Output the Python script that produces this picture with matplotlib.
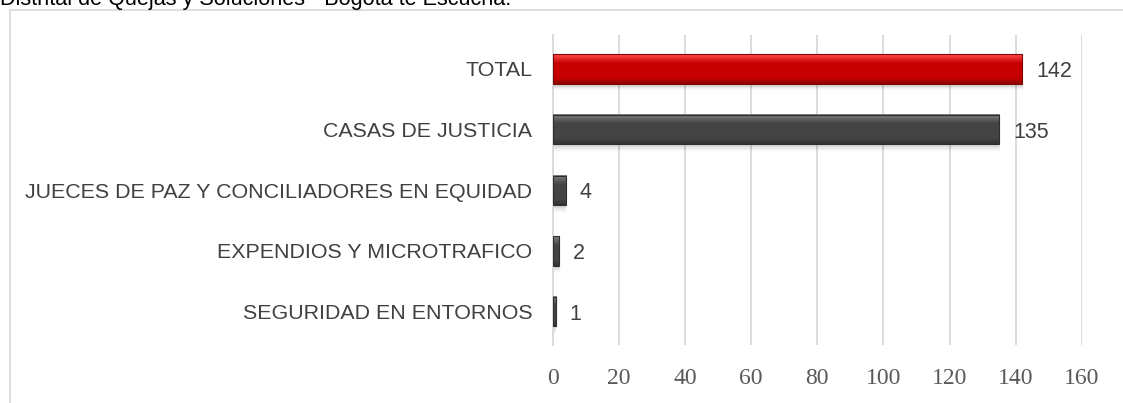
import matplotlib
matplotlib.use("Agg")
import matplotlib.pyplot as plt
import numpy as np
from matplotlib.patches import Rectangle

categories = ["TOTAL", "CASAS DE JUSTICIA", "JUECES DE PAZ Y CONCILIADORES EN EQUIDAD",
              "EXPENDIOS Y MICROTRAFICO", "SEGURIDAD EN ENTORNOS"]
values = [142, 135, 4, 2, 1]
xticks = [0, 20, 40, 60, 80, 100, 120, 140, 160]
title_text = "Distrital de Quejas y Soluciones - Bogotá te Escucha."

W, H = 1123, 403
fig = plt.figure(figsize=(W / 100, H / 100), dpi=100)
fig.patch.set_facecolor("white")

# outer frame
fig.patches.append(Rectangle((10 / W, -0.05), 1.1, 1 - 10 / H + 0.05, transform=fig.transFigure,
                             fill=False, edgecolor="#D9D9D9", linewidth=1.2))
fig.text(0 / W, 1 - 5 / H, title_text, fontsize=15.6, family="Liberation Sans",
         color="#000000", va="baseline", ha="left")

ax_left, ax_right, ax_top, ax_bot = 552.5, 1082, 35, 345
ax = fig.add_axes([ax_left / W, 1 - ax_bot / H, (ax_right - ax_left) / W, (ax_bot - ax_top) / H])
ypos = np.arange(len(categories))
bh = 0.48
px_per_unit = (ax_right - ax_left) / 160
row_px = (ax_bot - ax_top) / 5.11

ax.set_xlim(0, 160)
ax.set_ylim(len(categories) - 1 + 0.55, -0.56)

for y, v, i in zip(ypos, values, range(len(values))):
    if i == 0:
        top, mid, bot = np.array([1.0, 0.30, 0.30]), np.array([0.78, 0.0, 0.0]), np.array([0.55, 0.02, 0.02])
    else:
        top, mid, bot = np.array([0.50, 0.50, 0.50]), np.array([0.27, 0.27, 0.27]), np.array([0.20, 0.20, 0.20])
    # soft shadow
    for k, a in enumerate([0.06, 0.05, 0.04]):
        d = 0.03 * (k + 1)
        ax.add_patch(Rectangle((0, y - bh / 2 + d + 0.02), v + d * 2, bh, facecolor="#000000",
                               alpha=a, edgecolor="none", zorder=2))
    n = 40
    t = np.linspace(0, 1, n)
    cols = []
    for tt in t:
        if tt < 0.3:
            c = top + (mid - top) * (tt / 0.3)
        elif tt < 0.8:
            c = mid
        else:
            c = mid + (bot - mid) * ((tt - 0.8) / 0.2)
        cols.append(c)
    img = np.array(cols).reshape(n, 1, 3)
    ax.imshow(img, extent=(0, v, y + bh / 2, y - bh / 2), aspect="auto", zorder=3,
              interpolation="bilinear")
    ax.add_patch(Rectangle((0, y - bh / 2), v, bh, fill=False,
                           edgecolor=tuple(bot * 0.9), linewidth=0.8, zorder=4))
    ax.text(v + 14 / px_per_unit, y + 2.5 / row_px, str(v), va="center", ha="left", fontsize=15.5,
            family="Liberation Sans", color="#404040")

ax.set_xlim(0, 160)
ax.set_ylim(len(categories) - 1 + 0.55, -0.56)
ax.set_xticks(xticks)
ax.set_xticklabels([str(t) for t in xticks], family="Liberation Serif", fontsize=17, color="#595959")
ax.set_yticks(ypos)
ax.set_yticklabels(categories, family="Liberation Sans", fontsize=15.4, color="#404040")
ax.tick_params(axis="y", length=0, pad=14.5)
ax.tick_params(axis="x", length=0, pad=16.5)
ax.grid(axis="x", color="#D9D9D9", linewidth=1.3, zorder=0)
ax.set_axisbelow(True)
for s in ["top", "right", "bottom"]:
    ax.spines[s].set_visible(False)
ax.spines["left"].set_color("#D9D9D9")
ax.spines["left"].set_linewidth(1.3)

fig.savefig("out.png", dpi=100)
